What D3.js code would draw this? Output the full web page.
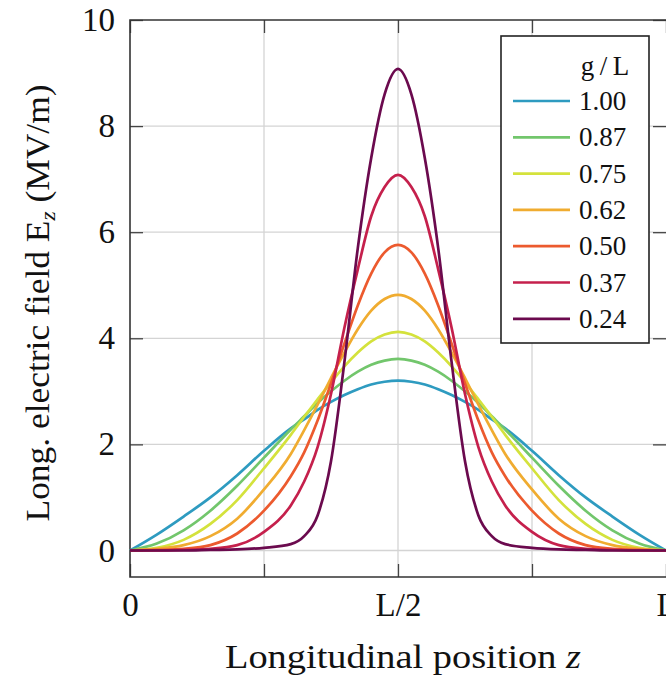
<!DOCTYPE html>
<html>
<head>
<meta charset="utf-8">
<script src="https://cdn.jsdelivr.net/npm/d3@7"></script>
<style>
  body { margin: 0; background: #fff; }
  svg text { font-family: "Liberation Serif", "DejaVu Serif", serif; fill: #111; }
</style>
</head>
<body>
<svg id="chart" width="666" height="681"></svg>
<script>
// longitudinal positions (fraction of L)
var zPos = [0, 0.05, 0.1, 0.15, 0.2, 0.25, 0.3, 0.325, 0.35, 0.375, 0.4, 0.425, 0.45, 0.475, 0.5,
            0.525, 0.55, 0.575, 0.6, 0.625, 0.65, 0.675, 0.7, 0.75, 0.8, 0.85, 0.9, 0.95, 1];

// gap ratios g/L (legend labels)
var gapLabels = ["1.00", "0.87", "0.75", "0.62", "0.50", "0.37", "0.24"];
var gapColors = ["#2e9bc0", "#72c66c", "#d4e23c", "#f0ac30", "#ec5a2e", "#c5204c", "#6b0a4e"];

// E_z in MV/m, one array per gap ratio
var ez100 = [0, 0.30, 0.64, 1.00, 1.42, 1.88, 2.30, 2.47, 2.65, 2.80, 2.93, 3.04, 3.13, 3.18, 3.20,
             3.18, 3.13, 3.04, 2.93, 2.80, 2.65, 2.47, 2.30, 1.88, 1.42, 1.00, 0.64, 0.30, 0];
var ez087 = [0, 0.13, 0.38, 0.75, 1.22, 1.75, 2.28, 2.53, 2.78, 3.00, 3.20, 3.37, 3.50, 3.58, 3.61,
             3.58, 3.50, 3.37, 3.20, 3.00, 2.78, 2.53, 2.28, 1.75, 1.22, 0.75, 0.38, 0.13, 0];
var ez075 = [0, 0.05, 0.20, 0.50, 0.95, 1.55, 2.18, 2.52, 2.85, 3.17, 3.47, 3.73, 3.94, 4.07, 4.12,
             4.07, 3.94, 3.73, 3.47, 3.17, 2.85, 2.52, 2.18, 1.55, 0.95, 0.50, 0.20, 0.05, 0];
var ez062 = [0, 0.03, 0.10, 0.27, 0.60, 1.15, 1.82, 2.27, 2.75, 3.25, 3.73, 4.17, 4.52, 4.74, 4.82,
             4.74, 4.52, 4.17, 3.73, 3.25, 2.75, 2.27, 1.82, 1.15, 0.60, 0.27, 0.10, 0.03, 0];
var ez050 = [0, 0.01, 0.03, 0.10, 0.32, 0.75, 1.40, 1.85, 2.45, 3.15, 3.90, 4.62, 5.22, 5.62, 5.76,
             5.62, 5.22, 4.62, 3.90, 3.15, 2.45, 1.85, 1.40, 0.75, 0.32, 0.10, 0.03, 0.01, 0];
var ez037 = [0, 0, 0.01, 0.03, 0.10, 0.35, 0.85, 1.30, 1.95, 2.95, 4.20, 5.30, 6.30, 6.85, 7.08,
             6.85, 6.30, 5.30, 4.20, 2.95, 1.95, 1.30, 0.85, 0.35, 0.10, 0.03, 0.01, 0, 0];
var ez024 = [0, 0, 0, 0.01, 0.02, 0.05, 0.12, 0.27, 0.66, 1.68, 3.55, 5.70, 7.40, 8.60, 9.08,
             8.60, 7.40, 5.70, 3.55, 1.68, 0.66, 0.27, 0.12, 0.05, 0.02, 0.01, 0, 0, 0];

var allSeries = [ez100, ez087, ez075, ez062, ez050, ez037, ez024];

var xTicks = [0, 0.25, 0.5, 0.75, 1];
var xTickLabels = {0: "0", 0.5: "L/2", 1: "L"};
var yTicks = [0, 2, 4, 6, 8, 10];

var pLeft = 130, pRight = 666, pTop = 20, pBottom = 577;

var svg = d3.select("#chart");

var x = d3.scaleLinear().domain([0, 1]).range([pLeft, pRight]);
var y = d3.scaleLinear().domain([-0.5, 10]).range([pBottom, pTop]);

// grid
svg.append("g").selectAll("line")
    .data([0.25, 0.5, 0.75])
    .enter().append("line")
    .attr("x1", d => x(d)).attr("x2", d => x(d))
    .attr("y1", pTop).attr("y2", pBottom)
    .attr("stroke", "#d4d4d4").attr("stroke-width", 1.3);

svg.append("g").selectAll("line")
    .data([0, 2, 4, 6, 8])
    .enter().append("line")
    .attr("x1", pLeft).attr("x2", pRight)
    .attr("y1", d => y(d)).attr("y2", d => y(d))
    .attr("stroke", "#d4d4d4").attr("stroke-width", 1.3);

// axes with inward ticks on all four sides
function styleAxis(g) {
    g.select(".domain").remove();
    g.selectAll(".tick line").attr("stroke", "#444").attr("stroke-width", 1.3);
    g.selectAll(".tick text")
        .attr("font-family", "Liberation Serif, serif")
        .attr("font-size", 33)
        .attr("fill", "#111");
}

svg.append("g")
    .attr("transform", "translate(0," + pBottom + ")")
    .call(d3.axisBottom(x).tickValues(xTicks).tickSizeInner(-13).tickSizeOuter(0).tickPadding(16)
        .tickFormat(d => xTickLabels[d] || ""))
    .call(styleAxis);

svg.append("g")
    .attr("transform", "translate(0," + pTop + ")")
    .call(d3.axisTop(x).tickValues(xTicks).tickSizeInner(-13).tickSizeOuter(0).tickFormat(""))
    .call(styleAxis);

svg.append("g")
    .attr("transform", "translate(" + pLeft + ",0)")
    .call(d3.axisLeft(y).tickValues(yTicks).tickSizeInner(-13).tickSizeOuter(0).tickPadding(15))
    .call(styleAxis);

svg.append("g")
    .attr("transform", "translate(" + pRight + ",0)")
    .call(d3.axisRight(y).tickValues(yTicks).tickSizeInner(-13).tickSizeOuter(0).tickFormat(""))
    .call(styleAxis);

// frame (right edge sits just past the picture, as in the original crop)
svg.append("path")
    .attr("d", "M" + (pRight + 1.5) + "," + pTop + "H" + pLeft + "V" + pBottom + "H" + (pRight + 1.5))
    .attr("fill", "none").attr("stroke", "#333").attr("stroke-width", 1.6);

// curves
var line = d3.line()
    .x((d, i) => x(zPos[i]))
    .y(d => y(d))
    .curve(d3.curveMonotoneX);

svg.append("g").selectAll("path")
    .data(allSeries)
    .enter().append("path")
    .attr("d", line)
    .attr("fill", "none")
    .attr("stroke", (d, i) => gapColors[i])
    .attr("stroke-width", 2.7)
    .attr("stroke-linejoin", "round");

// legend
var leg = svg.append("g");
leg.append("rect")
    .attr("x", 501).attr("y", 36).attr("width", 148).attr("height", 307)
    .attr("fill", "#fff").attr("stroke", "#222").attr("stroke-width", 1.6);
leg.append("text")
    .attr("x", 605).attr("y", 75)
    .attr("text-anchor", "middle")
    .attr("font-size", 27)
    .text("g\u2009/\u2009L");
var items = leg.selectAll("g.item")
    .data(gapLabels)
    .enter().append("g")
    .attr("transform", (d, i) => "translate(0," + (101 + i * 36.3) + ")");
items.append("line")
    .attr("x1", 513).attr("x2", 570)
    .attr("stroke", (d, i) => gapColors[i])
    .attr("stroke-width", 2.7);
items.append("text")
    .attr("x", 579).attr("y", 9)
    .attr("font-size", 27)
    .text(d => d);

// axis titles
svg.append("text")
    .attr("x", 403).attr("y", 668)
    .attr("text-anchor", "middle")
    .attr("font-size", 33)
    .attr("textLength", 356)
    .attr("lengthAdjust", "spacingAndGlyphs")
    .html('Longitudinal position <tspan font-style="italic">z</tspan>');

var yl = svg.append("text")
    .attr("transform", "translate(49,303) rotate(-90)")
    .attr("text-anchor", "middle")
    .attr("font-size", 33)
    .attr("textLength", 437)
    .attr("lengthAdjust", "spacingAndGlyphs");
yl.append("tspan").text("Long. electric field E");
yl.append("tspan").attr("font-size", 22).attr("font-style", "italic").attr("dy", 6).text("z");
yl.append("tspan").attr("dy", -6).text(" (MV/m)");
</script>
</body>
</html>
